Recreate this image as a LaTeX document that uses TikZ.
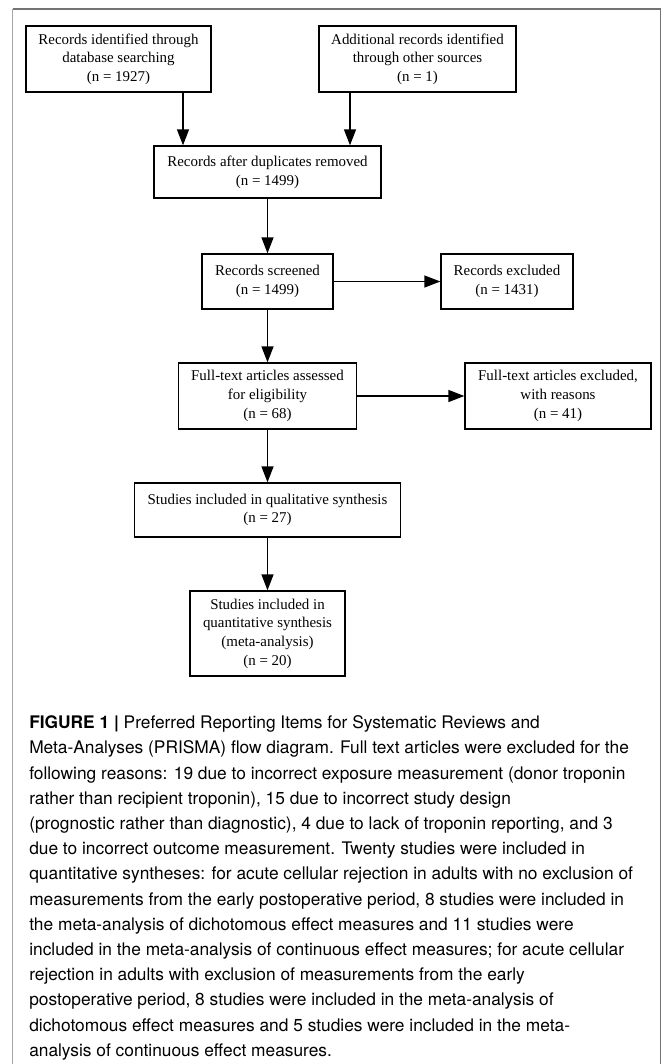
\documentclass[tikz,border=0pt]{standalone}
\usepackage{fontspec}
\setmainfont{Liberation Serif}
\newfontfamily\capfont{TeX Gyre Heros}
\usetikzlibrary{arrows.meta}
\begin{document}
\begin{tikzpicture}[x=0.75pt,y=-0.75pt,
  box/.style={draw, line width=1pt, inner sep=0pt, align=center, font=\fontsize{11.2}{14}\selectfont},
  arr/.style={line width=1pt, -{Triangle[length=12pt,width=9pt]}}]
\useasboundingbox (0,0) rectangle (663,1064);
\fill[white] (0,0) rectangle (663,1064);
% frame
\draw[black!35, line width=1pt] (12.7,1064) -- (12.7,9);
\draw[black!55, line width=1pt] (12.7,9) -- (660.5,9) -- (660.5,1064);
% boxes
\node[box, minimum width=138.75pt, minimum height=49.5pt] (b1) at (118.5,59) {Records identified through\\database searching\\(n = 1927)};
\node[box, minimum width=147.75pt, minimum height=49.5pt] (b2) at (417.5,59) {Additional records identified\\through other sources\\(n = 1)};
\node[box, minimum width=170.25pt, minimum height=39pt] (b3) at (267.5,172) {Records after duplicates removed\\(n = 1499)};
\node[box, minimum width=98.25pt, minimum height=41.25pt] (b4) at (267.5,281.5) {Records screened\\(n = 1499)};
\node[box, minimum width=99pt, minimum height=41.25pt] (b5) at (507,281.5) {Records excluded\\(n = 1431)};
\node[box, minimum width=133.5pt, minimum height=49.5pt] (b6) at (267.5,396) {Full-text articles assessed\\for eligibility\\(n = 68)};
\node[box, minimum width=139.5pt, minimum height=49.5pt] (b7) at (558,396) {Full-text articles excluded,\\with reasons\\(n = 41)};
\node[box, minimum width=199.5pt, minimum height=40.5pt] (b8) at (267.5,510) {Studies included in qualitative synthesis\\(n = 27)};
\node[box, minimum width=116.25pt, minimum height=63.75pt] (b9) at (267.5,633.5) {Studies included in\\quantitative synthesis\\(meta-analysis)\\(n = 20)};
% arrows
\coordinate (c1) at (183,0);
\coordinate (c2) at (350,0);
\draw[arr] (c1 |- b1.south) -- (c1 |- b3.north);
\draw[arr] (c2 |- b2.south) -- (c2 |- b3.north);
\draw[arr] (b3.south) -- (b4.north);
\draw[arr] (b4.east) -- (b5.west);
\draw[arr] (b4.south) -- (b6.north);
\draw[arr] (b6.east) -- (b7.west);
\draw[arr] (b6.south) -- (b8.north);
\draw[arr] (b8.south) -- (b9.north);
% caption
\node[anchor=north west, inner sep=0pt, align=left, font=\capfont\fontsize{13}{18.9}\selectfont] (cap) at (29,715.5) {%
\textbf{FIGURE 1 |} Preferred Reporting Items for Systematic Reviews and\\
Meta-Analyses (PRISMA) flow diagram. Full text articles were excluded for the\\
following reasons: 19 due to incorrect exposure measurement (donor troponin\\
rather than recipient troponin), 15 due to incorrect study design\\
(prognostic rather than diagnostic), 4 due to lack of troponin reporting, and 3\\
due to incorrect outcome measurement. Twenty studies were included in\\
quantitative syntheses: for acute cellular rejection in adults with no exclusion of\\
measurements from the early postoperative period, 8 studies were included in\\
the meta-analysis of dichotomous effect measures and 11 studies were\\
included in the meta-analysis of continuous effect measures; for acute cellular\\
rejection in adults with exclusion of measurements from the early\\
postoperative period, 8 studies were included in the meta-analysis of\\
dichotomous effect measures and 5 studies were included in the meta-\\
analysis of continuous effect measures.};
\end{tikzpicture}
\end{document}
